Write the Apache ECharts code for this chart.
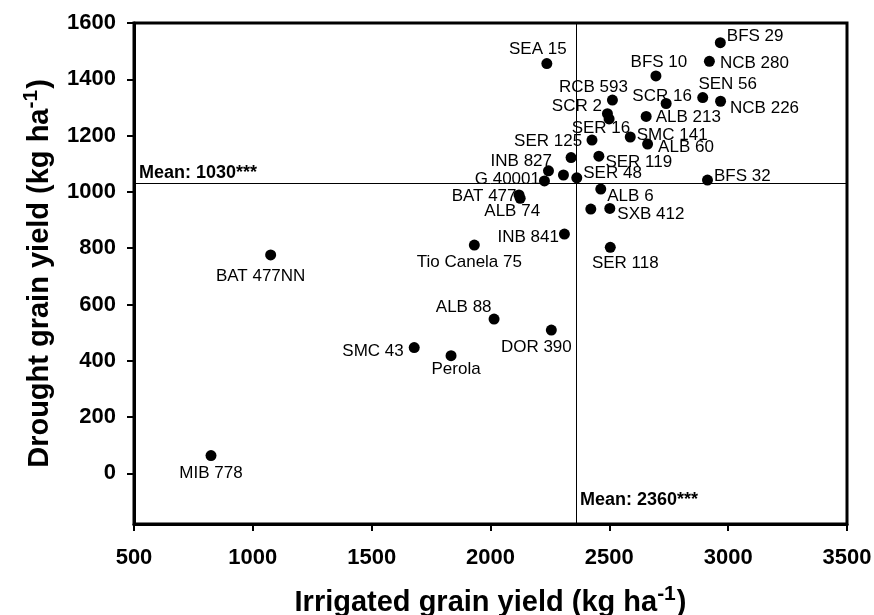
<!DOCTYPE html>
<html>
<head>
<meta charset="utf-8">
<script src="https://cdn.jsdelivr.net/npm/echarts@6/dist/echarts.min.js"></script>
<style>
html,body{margin:0;padding:0;background:#fff;}
#c{width:874px;height:615px;}
</style>
</head>
<body>
<div id="c"></div>
<script>
// ---- data ----
const genotypes = ['SEA 15','BFS 10','NCB 280','BFS 29','RCB 593','SCR 16','SEN 56','NCB 226','SCR 2','',
  'ALB 213','SER 16','SMC 141','ALB 60','SER 125','SER 119','INB 827','','SER 48','G 40001',
  'BFS 32','ALB 6','BAT 477','ALB 74','','SXB 412','INB 841','Tio Canela 75','SER 118','BAT 477NN',
  'ALB 88','DOR 390','SMC 43','Perola','MIB 778'];
const irrigated = [2237,2696,2921,2967,2513,2739,2893,2968,2492,2499,
  2655,2427,2588,2661,2339,2456,2244,2307,2363,2227,
  2913,2464,2120,2125,2422,2502,2311,1932,2504,1075,
  2015,2256,1679,1834,824];
const drought = [1456,1412,1464,1530,1326,1314,1335,1322,1278,1259,
  1268,1184,1195,1170,1122,1127,1075,1060,1050,1039,
  1042,1010,989,977,939,941,850,811,803,776,
  548,509,447,418,63];
const meanIrrigated = 2360;
const meanDrought = 1030;
const xTicks = [500,1000,1500,2000,2500,3000,3500];
const yTicks = [0,200,400,600,800,1000,1200,1400,1600];

// ---- label placement (style) ----
const labelPlace = {
  'SEA 15':['top',-9,5], 'BFS 10':['top',3,5], 'NCB 280':['right',0,2], 'BFS 29':['right',-4,-6],
  'RCB 593':['top',-19,6], 'SCR 16':['top',-4,12], 'SEN 56':['top',25,6], 'NCB 226':['right',-1,7],
  'SCR 2':['left',5,-7], 'ALB 213':['right',-1,1], 'SER 16':['top',9,7], 'SMC 141':['right',-4,-2],
  'ALB 60':['right',0,3], 'SER 125':['top',-23,3], 'SER 119':['right',-4,6], 'INB 827':['left',14,-9],
  'SER 48':['right',-4,-4], 'G 40001':['left',6,-2], 'BFS 32':['right',-4,-4], 'ALB 6':['right',-4,7],
  'BAT 477':['left',8,1], 'ALB 74':['bottom',-8,-6], 'SXB 412':['right',-3,6], 'INB 841':['left',5,3],
  'Tio Canela 75':['bottom',-5,-2], 'SER 118':['bottom',15,-3], 'BAT 477NN':['bottom',-10,2],
  'ALB 88':['left',8,-12], 'DOR 390':['bottom',-15,-2], 'SMC 43':['left',0,4], 'Perola':['bottom',5,-5],
  'MIB 778':['bottom',0,-1]
};

const FONT = "'Liberation Sans', Arial, sans-serif";
const pts = genotypes.map((n, i) => {
  const p = labelPlace[n];
  return {
    name: n,
    value: [irrigated[i], drought[i]],
    label: p ? {show: true, position: p[0], offset: [p[1], p[2]], distance: 5} : {show: false}
  };
});

const titleRich = {
  t: {fontFamily: FONT, fontWeight: 'bold', fontSize: 29, color: '#000', verticalAlign: 'bottom'},
  s: {fontFamily: FONT, fontWeight: 'bold', fontSize: 21, color: '#000', verticalAlign: 'bottom', padding: [0, 1, 12, 0]}
};

const chart = echarts.init(document.getElementById('c'), null, {renderer: 'canvas'});
chart.setOption({
  animation: false,
  backgroundColor: '#fff',
  grid: {left: 134, right: 27, top: 23, bottom: 91, show: true, borderColor: '#000', borderWidth: 3,
         containLabel: false, outerBoundsMode: 'none'},
  xAxis: {
    type: 'value', min: 500, max: 3500, interval: 500,
    name: '{t|Irrigated grain yield (kg ha}{s|-1}{t|)}',
    nameLocation: 'middle', nameGap: 60,
    nameTextStyle: {rich: titleRich},
    axisLine: {show: true, onZero: false, lineStyle: {color: '#000', width: 3}},
    axisTick: {show: true, inside: false, length: 7, lineStyle: {color: '#000', width: 2}, customValues: xTicks},
    axisLabel: {fontFamily: FONT, fontWeight: 'bold', fontSize: 22, color: '#000', margin: 23,
      customValues: xTicks, formatter: v => String(v)},
    splitLine: {show: false}
  },
  yAxis: {
    type: 'value', min: -180, max: 1600,
    name: '{t|Drought grain yield (kg ha}{s|-1}{t|)}',
    nameLocation: 'middle', nameGap: 80, nameRotate: 90,
    nameTextStyle: {rich: titleRich},
    axisLine: {show: true, onZero: false, lineStyle: {color: '#000', width: 3}},
    axisTick: {show: true, inside: false, length: 7, lineStyle: {color: '#000', width: 2}, customValues: yTicks},
    axisLabel: {fontFamily: FONT, fontWeight: 'bold', fontSize: 22, color: '#000', margin: 18,
      customValues: yTicks, formatter: v => String(v)},
    splitLine: {show: false}
  },
  series: [{
    type: 'scatter',
    symbol: 'circle',
    symbolSize: 11,
    itemStyle: {color: '#000', opacity: 1},
    emphasis: {disabled: true},
    label: {show: true, formatter: '{b}', fontFamily: FONT, fontSize: 17, color: '#000'},
    data: pts,
    markLine: {
      silent: true, symbol: 'none', animation: false,
      lineStyle: {color: '#000', width: 1, type: 'solid', opacity: 1},
      label: {show: false},
      data: [{xAxis: meanIrrigated}, {yAxis: meanDrought}]
    },
    markPoint: {
      silent: true, symbol: 'circle', symbolSize: 0, animation: false,
      label: {show: true, fontFamily: FONT, fontWeight: 'bold', fontSize: 18, color: '#000', position: 'right', distance: 0},
      data: [
        {coord: [500, meanDrought], value: 'Mean: ' + meanDrought + '***', label: {offset: [5, -10], formatter: '{c}'}},
        {coord: [meanIrrigated, -180], value: 'Mean: ' + meanIrrigated + '***', label: {offset: [4, -24], formatter: '{c}'}}
      ]
    }
  }]
});
</script>
</body>
</html>
